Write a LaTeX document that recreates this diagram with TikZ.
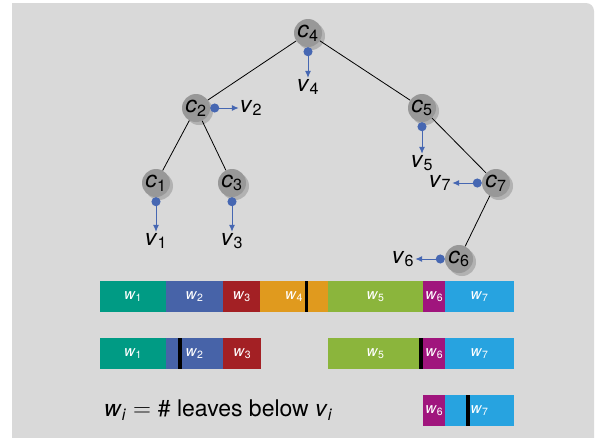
\documentclass[tikz,border=0pt]{standalone}
\usepackage{fontspec}
\setmainfont{TeX Gyre Heros}
\usetikzlibrary{arrows.meta,shadows}
\definecolor{bggray}{RGB}{217,217,217}
\definecolor{nodegray}{RGB}{152,152,152}
\definecolor{shadegray}{RGB}{178,178,178}
\definecolor{arrowblue}{RGB}{70,103,178}
\definecolor{wone}{RGB}{0,155,132}
\definecolor{wtwo}{RGB}{71,99,168}
\definecolor{wthree}{RGB}{163,32,36}
\definecolor{wfour}{RGB}{224,154,30}
\definecolor{wfive}{RGB}{139,181,60}
\definecolor{wsix}{RGB}{160,21,125}
\definecolor{wseven}{RGB}{39,163,224}
\newcommand{\lbl}[2]{\textit{#1}\textsubscript{#2}}

\begin{document}
\begin{tikzpicture}[x=1pt,y=-1pt,
  cnode/.style={circle, fill=nodegray, minimum size=28pt, inner sep=0pt,
    font=\fontsize{23}{27}\selectfont,
    general shadow={fill=shadegray, shadow xshift=3pt, shadow yshift=-3pt}},
  vnode/.style={inner sep=1pt, font=\fontsize{23}{27}\selectfont},
  treeline/.style={black, line width=0.8pt},
  varrow/.style={arrowblue, line width=1pt, {Circle[length=9pt]}-{Latex[length=7pt,width=6pt]}},
  bar/.style={anchor=north west, minimum height=31pt, inner sep=0pt,
    text=white, font=\fontsize{15}{18}\selectfont},
  cutbar/.style={black, line width=3.5pt}]
\useasboundingbox (0,0) rectangle (595,437);
\fill[bggray, rounded corners=8pt] (12,3) rectangle (594,460);
\fill[bggray] (12,3) rectangle (60,460);

% tree
\node[cnode] (c4) at (308,33) {\lbl{c}{4}};
\node[cnode] (c2) at (196,108) {\lbl{c}{2}};
\node[cnode] (c5) at (422,108) {\lbl{c}{5}};
\node[cnode] (c1) at (156,183) {\lbl{c}{1}};
\node[cnode] (c3) at (232,183) {\lbl{c}{3}};
\node[cnode] (c7) at (496,183) {\lbl{c}{7}};
\node[cnode] (c6) at (459,259) {\lbl{c}{6}};
\draw[treeline] (c4) -- (c2);
\draw[treeline] (c4) -- (c5);
\draw[treeline] (c2) -- (c1);
\draw[treeline] (c2) -- (c3);
\draw[treeline] (c5) -- (c7);
\draw[treeline] (c7) -- (c6);

\node[vnode] (v4) at (308,87) {\lbl{v}{4}};
\node[vnode] (v2) at (251,108) {\lbl{v}{2}};
\node[vnode] (v5) at (422,163) {\lbl{v}{5}};
\node[vnode] (v1) at (156,241) {\lbl{v}{1}};
\node[vnode] (v3) at (232,241) {\lbl{v}{3}};
\node[vnode] (v7) at (440,183) {\lbl{v}{7}};
\node[vnode] (v6) at (403,259) {\lbl{v}{6}};
\draw[varrow] (c4) -- (v4);
\draw[varrow] (c2) -- (v2);
\draw[varrow] (c5) -- (v5);
\draw[varrow] (c1) -- (v1);
\draw[varrow] (c3) -- (v3);
\draw[varrow] (c7) -- (v7);
\draw[varrow] (c6) -- (v6);

% weight bars
\node[bar, fill=wone, minimum width=65.7pt] (top1) at (100,281) {\lbl{w}{1}};
\node[bar, fill=wtwo, minimum width=57.3pt] (top2) at (165.7,281) {\lbl{w}{2}};
\node[bar, fill=wthree, minimum width=37pt] (top3) at (223,281) {\lbl{w}{3}};
\node[bar, fill=wfour, minimum width=67.7pt] (top4) at (260,281) {\lbl{w}{4}};
\node[bar, fill=wfive, minimum width=95.3pt] (top5) at (327.7,281) {\lbl{w}{5}};
\node[bar, fill=wsix, minimum width=22pt] (top6) at (423,281) {\lbl{w}{6}};
\node[bar, fill=wseven, minimum width=68.7pt] (top7) at (445,281) {\lbl{w}{7}};
\draw[cutbar] (306.7,281) -- (306.7,312);

\node[bar, fill=wone, minimum width=65.7pt] (mid1) at (100,338) {\lbl{w}{1}};
\node[bar, fill=wtwo, minimum width=57.3pt] (mid2) at (165.7,338) {\lbl{w}{2}};
\node[bar, fill=wthree, minimum width=38pt] (mid3) at (223,338) {\lbl{w}{3}};
\node[bar, fill=wfive, minimum width=95.3pt] (mid5) at (327.7,338) {\lbl{w}{5}};
\node[bar, fill=wsix, minimum width=22pt] (mid6) at (423,338) {\lbl{w}{6}};
\node[bar, fill=wseven, minimum width=68.7pt] (mid7) at (445,338) {\lbl{w}{7}};
\draw[cutbar] (180,338) -- (180,369);
\draw[cutbar] (421,338) -- (421,369);

\node[bar, fill=wsix, minimum width=22pt] (low6) at (423,395) {\lbl{w}{6}};
\node[bar, fill=wseven, minimum width=68.7pt] (low7) at (445,395) {\lbl{w}{7}};
\draw[cutbar] (468,395) -- (468,426);

\node[vnode, anchor=west] (legend) at (103,410)
  {\lbl{w}{\textit{i}} $=\#$ leaves below \lbl{v}{\textit{i}}};
\end{tikzpicture}
\end{document}
